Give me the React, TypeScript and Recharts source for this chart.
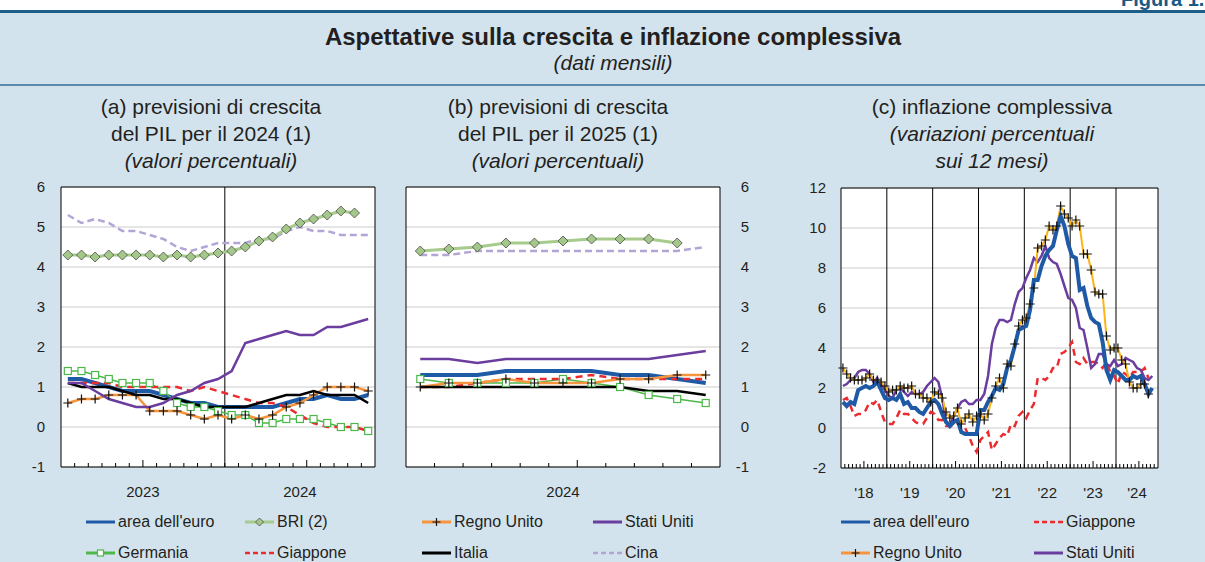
import React from 'react'
import { CartesianGrid, Line, LineChart, ReferenceArea, ReferenceLine, XAxis, YAxis } from 'recharts'

const FONT = '"Liberation Sans", Arial, Helvetica, sans-serif'
const INK = '#231f20'

// (a) forecasts of 2024 GDP growth, monthly surveys
const monthsA = [
  '2023-01', '2023-02', '2023-03', '2023-04', '2023-05', '2023-06', '2023-07', '2023-08', '2023-09', '2023-10', '2023-11', '2023-12',
  '2024-01', '2024-02', '2024-03', '2024-04', '2024-05', '2024-06', '2024-07', '2024-08', '2024-09', '2024-10', '2024-11',
]
const euroA = [1.2, 1.2, 1.1, 1.0, 0.9, 0.9, 0.9, 0.8, 0.7, 0.6, 0.6, 0.5, 0.5, 0.5, 0.5, 0.5, 0.6, 0.7, 0.7, 0.8, 0.7, 0.7, 0.8]
const briA = [4.3, 4.3, 4.25, 4.3, 4.3, 4.3, 4.3, 4.25, 4.3, 4.25, 4.3, 4.35, 4.4, 4.5, 4.65, 4.75, 4.95, 5.1, 5.2, 5.3, 5.4, 5.35, null]
const ukA = [0.6, 0.7, 0.7, 0.8, 0.8, 0.8, 0.4, 0.4, 0.4, 0.3, 0.2, 0.3, 0.2, 0.3, 0.2, 0.3, 0.5, 0.6, 0.8, 1.0, 1.0, 1.0, 0.9]
const usA = [1.1, 1.1, 0.9, 0.7, 0.6, 0.5, 0.5, 0.6, 0.8, 0.9, 1.1, 1.2, 1.4, 2.1, 2.2, 2.3, 2.4, 2.3, 2.3, 2.5, 2.5, 2.6, 2.7]
const deA = [1.4, 1.4, 1.3, 1.2, 1.1, 1.1, 1.1, 0.9, 0.6, 0.5, 0.5, 0.4, 0.3, 0.3, 0.1, 0.1, 0.2, 0.2, 0.2, 0.1, 0.0, 0.0, -0.1]
const jpA = [1.1, 1.1, 1.1, 1.1, 1.0, 1.0, 1.0, 1.0, 1.0, 0.9, 1.0, 0.9, 0.8, 0.7, 0.6, 0.6, 0.5, 0.3, 0.1, 0.0, 0.0, 0.0, -0.1]
const itA = [1.1, 1.0, 1.0, 1.0, 0.9, 0.8, 0.8, 0.7, 0.7, 0.6, 0.5, 0.5, 0.5, 0.5, 0.6, 0.7, 0.8, 0.8, 0.9, 0.8, 0.8, 0.8, 0.6]
const cnA = [5.3, 5.1, 5.2, 5.1, 4.9, 4.9, 4.8, 4.7, 4.5, 4.4, 4.5, 4.6, 4.6, 4.6, 4.7, 4.7, 4.9, 5.0, 4.9, 4.9, 4.8, 4.8, 4.8]

// (b) forecasts of 2025 GDP growth
const monthsB = ['2024-01', '2024-02', '2024-03', '2024-04', '2024-05', '2024-06', '2024-07', '2024-08', '2024-09', '2024-10', '2024-11']
const euroB = [1.3, 1.3, 1.3, 1.4, 1.4, 1.4, 1.4, 1.3, 1.3, 1.2, 1.1]
const briB = [4.4, 4.45, 4.5, 4.6, 4.6, 4.65, 4.7, 4.7, 4.7, 4.6, null]
const ukB = [1.0, 1.1, 1.1, 1.2, 1.1, 1.1, 1.1, 1.2, 1.2, 1.3, 1.3]
const usB = [1.7, 1.7, 1.6, 1.7, 1.7, 1.7, 1.7, 1.7, 1.7, 1.8, 1.9]
const deB = [1.2, 1.1, 1.1, 1.1, 1.1, 1.2, 1.1, 1.0, 0.8, 0.7, 0.6]
const jpB = [1.0, 1.0, 1.1, 1.2, 1.2, 1.2, 1.3, 1.2, 1.2, 1.2, 1.2]
const itB = [1.0, 1.0, 1.0, 1.0, 1.0, 1.0, 1.0, 1.0, 0.9, 0.9, 0.8]
const cnB = [4.3, 4.3, 4.4, 4.4, 4.4, 4.4, 4.4, 4.4, 4.4, 4.4, 4.5]

const yTicksAB = [-1, 0, 1, 2, 3, 4, 5, 6]

// (c) headline inflation, 12-month % change
const yearsC = ['2018', '2019', '2020', '2021', '2022', '2023', '2024']
const monthCountC = [12, 12, 12, 12, 12, 12, 11]
const euroC = [
  1.3, 1.1, 1.3, 1.2, 1.9, 2.0, 2.1, 2.0, 2.1, 2.3, 1.9, 1.5,
  1.4, 1.5, 1.4, 1.7, 1.2, 1.3, 1.0, 1.0, 0.8, 0.7, 1.0, 1.3,
  1.4, 1.2, 0.7, 0.3, 0.1, 0.3, 0.4, -0.2, -0.3, -0.3, -0.3, -0.3,
  0.9, 0.9, 1.3, 1.6, 2.0, 1.9, 2.2, 3.0, 3.4, 4.1, 4.9, 5.0,
  5.1, 5.9, 7.4, 7.4, 8.1, 8.6, 8.9, 9.1, 9.9, 10.6, 10.1, 9.2,
  8.6, 8.5, 6.9, 7.0, 6.1, 5.5, 5.3, 5.2, 4.3, 2.9, 2.4, 2.9,
  2.8, 2.6, 2.4, 2.4, 2.6, 2.5, 2.6, 2.2, 1.7, 2.0, null,
]
const jpC = [
  1.4, 1.5, 1.1, 0.6, 0.7, 0.7, 0.9, 1.3, 1.2, 1.4, 0.8, 0.3,
  0.2, 0.2, 0.5, 0.9, 0.7, 0.7, 0.5, 0.3, 0.2, 0.2, 0.5, 0.8,
  0.7, 0.4, 0.4, 0.1, 0.1, 0.1, 0.3, 0.2, 0.0, -0.4, -0.9, -1.2,
  -0.6, -0.4, -0.2, -1.1, -0.8, -0.5, -0.3, -0.4, 0.2, 0.1, 0.6, 0.8,
  0.5, 0.9, 1.2, 2.5, 2.5, 2.4, 2.6, 3.0, 3.0, 3.7, 3.8, 4.0,
  4.3, 3.3, 3.2, 3.5, 3.2, 3.3, 3.3, 3.2, 3.0, 3.3, 2.8, 2.6,
  2.2, 2.8, 2.7, 2.5, 2.8, 2.8, 2.8, 3.0, 2.5, null, null,
]
const ukC = [
  3.0, 2.7, 2.5, 2.4, 2.4, 2.4, 2.5, 2.7, 2.4, 2.4, 2.3, 2.1,
  1.8, 1.9, 1.9, 2.1, 2.0, 2.0, 2.1, 1.7, 1.7, 1.5, 1.5, 1.3,
  1.8, 1.7, 1.5, 0.8, 0.5, 0.6, 1.0, 0.2, 0.5, 0.7, 0.3, 0.6,
  0.7, 0.4, 0.7, 1.5, 2.1, 2.5, 2.0, 3.2, 3.1, 4.2, 5.1, 5.4,
  5.5, 6.2, 7.0, 9.0, 9.1, 9.4, 10.1, 9.9, 10.1, 11.1, 10.7, 10.5,
  10.1, 10.4, 10.1, 8.7, 8.7, 7.9, 6.8, 6.7, 6.7, 4.6, 3.9, 4.0,
  4.0, 3.4, 3.2, 2.3, 2.0, 2.0, 2.2, 2.2, 1.7, null, null,
]
const usC = [
  2.1, 2.2, 2.4, 2.5, 2.8, 2.9, 2.9, 2.7, 2.3, 2.5, 2.2, 1.9,
  1.6, 1.5, 1.9, 2.0, 1.8, 1.6, 1.8, 1.7, 1.7, 1.8, 2.1, 2.3,
  2.5, 2.3, 1.5, 0.3, 0.1, 0.6, 1.0, 1.3, 1.4, 1.2, 1.2, 1.4,
  1.4, 1.7, 2.6, 4.2, 5.0, 5.4, 5.4, 5.3, 5.4, 6.2, 6.8, 7.0,
  7.5, 7.9, 8.5, 8.3, 8.6, 9.1, 8.5, 8.3, 8.2, 7.7, 7.1, 6.5,
  6.4, 6.0, 5.0, 4.9, 4.0, 3.0, 3.2, 3.7, 3.7, 3.2, 3.1, 3.4,
  3.1, 3.2, 3.5, 3.4, 3.3, 3.0, 2.9, 2.5, 2.4, 2.6, null,
]
const yTicksC = [-2, 0, 2, 4, 6, 8, 10, 12]

const monthsC: string[] = []
yearsC.forEach((y, k) => {
  for (let m = 1; m <= monthCountC[k]; m++) monthsC.push(`${y}-${String(m).padStart(2, '0')}`)
})

const rowsA = monthsA.map((m, i) => ({ x: i + 0.5, euro: euroA[i], bri: briA[i], uk: ukA[i], us: usA[i], de: deA[i], jp: jpA[i], it: itA[i], cn: cnA[i] }))
const rowsB = monthsB.map((m, i) => ({ x: i + 0.5, euro: euroB[i], bri: briB[i], uk: ukB[i], us: usB[i], de: deB[i], jp: jpB[i], it: itB[i], cn: cnB[i] }))
const rowsC = monthsC.map((m, i) => ({ x: i + 0.5, euro: euroC[i], jp: jpC[i], uk: ukC[i], us: usC[i] }))

function yearSpans(months: string[], fmt: (y: string) => string) {
  const spans: { year: string; start: number; end: number }[] = []
  months.forEach((m, i) => {
    const y = m.slice(0, 4)
    const last = spans[spans.length - 1]
    if (last && last.year === y) last.end = i + 1
    else spans.push({ year: y, start: i, end: i + 1 })
  })
  return spans.map((s) => ({ text: fmt(s.year), pos: (s.start + s.end) / 2, start: s.start }))
}

const spansA = yearSpans(monthsA, (y) => y)
const spansB = yearSpans(monthsB, (y) => y)
const spansC = yearSpans(monthsC, (y) => "'" + y.slice(2))

function axisTicks(months: string[], spans: { pos: number }[]) {
  const t = months.map((m, i) => i).filter((i) => i > 0)
  spans.forEach((s) => { if (!t.includes(s.pos)) t.push(s.pos) })
  return t.sort((a, b) => a - b)
}

function MonthAxisTick(props: any) {
  const { x, y, payload, months, spans } = props
  const v = payload.value
  const isBoundary = Number.isInteger(v) && v > 0 && v < months.length
  const long = isBoundary && months[v].endsWith('-07')
  const lab = spans.find((s: any) => s.pos === v)
  return (
    <g>
      {isBoundary && <line x1={x} x2={x} y1={y} y2={y - (long ? 7 : 4)} stroke="#000" strokeWidth={1} />}
      {lab && (
        <text x={x} y={y + 25} dy="0.35em" textAnchor="middle" fontSize={15} fill={INK} fontFamily={FONT}>
          {lab.text}
        </text>
      )}
    </g>
  )
}

function RightTick(props: any) {
  const { x, y, payload, shift } = props
  return (
    <text x={x + shift} y={y} dy="0.355em" textAnchor="end" fontSize={15} fill={INK} fontFamily={FONT}>
      {payload.value}
    </text>
  )
}

const Diamond = (p: any) =>
  p.cx == null || p.cy == null ? (
    <g key={`dm${p.index}`} />
  ) : (
    <path key={`dm${p.index}`} d={`M${p.cx},${p.cy - 5}L${p.cx + 5},${p.cy}L${p.cx},${p.cy + 5}L${p.cx - 5},${p.cy}Z`} fill="#a4c88a" stroke="#4a4a4a" strokeWidth={0.8} />
  )

const Plus = (p: any) =>
  p.cx == null || p.cy == null ? (
    <g key={`pl${p.index}`} />
  ) : (
    <path key={`pl${p.index}`} d={`M${p.cx - 4.5},${p.cy}H${p.cx + 4.5}M${p.cx},${p.cy - 4.5}V${p.cy + 4.5}`} stroke="#111" strokeWidth={1.2} fill="none" />
  )

const Square = (p: any) =>
  p.cx == null || p.cy == null ? (
    <g key={`sq${p.index}`} />
  ) : (
    <rect key={`sq${p.index}`} x={p.cx - 3.5} y={p.cy - 3.5} width={7} height={7} fill="#fff" stroke="#4cb84a" strokeWidth={1.2} />
  )

const C = {
  euro: '#1f5aa6',
  bri: '#a6cb8c',
  uk: '#f7953e',
  ukC: '#fbb516',
  us: '#6a3d9e',
  de: '#4cb84a',
  jp: '#ec2b2e',
  it: '#000000',
  cn: '#b3a6d6',
}

function growthLines(x: string, y: string) {
  return [
    <Line key="cn" xAxisId={x} yAxisId={y} dataKey="cn" stroke={C.cn} strokeWidth={2.5} strokeDasharray="7 4" dot={false} isAnimationActive={false} />,
    <Line key="bri" xAxisId={x} yAxisId={y} dataKey="bri" stroke={C.bri} strokeWidth={3} dot={Diamond} isAnimationActive={false} />,
    <Line key="euro" xAxisId={x} yAxisId={y} dataKey="euro" stroke={C.euro} strokeWidth={4} dot={false} isAnimationActive={false} />,
    <Line key="de" xAxisId={x} yAxisId={y} dataKey="de" stroke={C.de} strokeWidth={1.5} dot={Square} isAnimationActive={false} />,
    <Line key="jp" xAxisId={x} yAxisId={y} dataKey="jp" stroke={C.jp} strokeWidth={2.5} strokeDasharray="7 5" dot={false} isAnimationActive={false} />,
    <Line key="uk" xAxisId={x} yAxisId={y} dataKey="uk" stroke={C.uk} strokeWidth={2.5} dot={Plus} isAnimationActive={false} />,
    <Line key="it" xAxisId={x} yAxisId={y} dataKey="it" stroke={C.it} strokeWidth={2.5} dot={false} isAnimationActive={false} />,
    <Line key="us" xAxisId={x} yAxisId={y} dataKey="us" stroke={C.us} strokeWidth={2.5} dot={false} isAnimationActive={false} />,
  ]
}

const tickStyle = { fontSize: 15, fill: INK, fontFamily: FONT }

function PanelA() {
  const n = monthsA.length
  return (
    <LineChart width={400} height={340} data={rowsA} margin={{ top: 17, right: 25, bottom: 0, left: 21 }}>
      <CartesianGrid xAxisId="b" yAxisId="l" vertical={false} stroke="#cccccc" fill="#ffffff" />
      <XAxis xAxisId="b" dataKey="x" type="number" domain={[0, n]} ticks={axisTicks(monthsA, spansA)} interval={0} height={43}
        axisLine={false} tickLine={false} tickSize={0} tickMargin={0} tick={<MonthAxisTick months={monthsA} spans={spansA} />} />
      <YAxis yAxisId="l" type="number" domain={[-1, 6]} ticks={yTicksAB} interval={0} width={40} axisLine={false} tickLine={false}
        tickSize={0} tickMargin={16} tick={tickStyle} />
      {spansA.slice(1).map((s) => (
        <ReferenceLine key={s.start} xAxisId="b" yAxisId="l" x={s.start} stroke="#000" strokeWidth={1} />
      ))}
      {growthLines('b', 'l')}
      <ReferenceArea xAxisId="b" yAxisId="l" x1={0} x2={n} y1={-1} y2={6} fill="none" fillOpacity={0} stroke="#000" strokeWidth={1} />
    </LineChart>
  )
}

function PanelB() {
  const n = monthsB.length
  return (
    <LineChart width={400} height={340} data={rowsB} margin={{ top: 17, right: 20, bottom: 0, left: 26 }}>
      <CartesianGrid xAxisId="b" yAxisId="r" vertical={false} stroke="#cccccc" fill="#ffffff" />
      <XAxis xAxisId="b" dataKey="x" type="number" domain={[0, n]} ticks={axisTicks(monthsB, spansB)} interval={0} height={43}
        axisLine={false} tickLine={false} tickSize={0} tickMargin={0} tick={<MonthAxisTick months={monthsB} spans={spansB} />} />
      <YAxis yAxisId="r" orientation="right" type="number" domain={[-1, 6]} ticks={yTicksAB} interval={0} width={40} axisLine={false}
        tickLine={false} tickSize={0} tickMargin={0} tick={<RightTick shift={29} />} />
      {growthLines('b', 'r')}
      <ReferenceArea xAxisId="b" yAxisId="r" x1={0} x2={n} y1={-1} y2={6} fill="none" fillOpacity={0} stroke="#000" strokeWidth={1} />
    </LineChart>
  )
}

function PanelC() {
  const n = monthsC.length
  return (
    <LineChart width={415} height={340} data={rowsC} margin={{ top: 18, right: 7, bottom: 0, left: 11 }}>
      <CartesianGrid xAxisId="b" yAxisId="l" vertical={false} stroke="#cccccc" fill="#ffffff" />
      <XAxis xAxisId="b" dataKey="x" type="number" domain={[0, n]} ticks={axisTicks(monthsC, spansC)} interval={0} height={42}
        axisLine={false} tickLine={false} tickSize={0} tickMargin={0} tick={<MonthAxisTick months={monthsC} spans={spansC} />} />
      <YAxis yAxisId="l" type="number" domain={[-2, 12]} ticks={yTicksC} interval={0} width={40} axisLine={false} tickLine={false}
        tickSize={0} tickMargin={15} tick={tickStyle} />
      <YAxis yAxisId="r" orientation="right" type="number" domain={[-2, 12]} ticks={yTicksC} interval={0} width={40} axisLine={false}
        tickLine={false} tickSize={0} tickMargin={0} tick={<RightTick shift={31} />} />
      {spansC.slice(1).map((s) => (
        <ReferenceLine key={s.start} xAxisId="b" yAxisId="l" x={s.start} stroke="#000" strokeWidth={1} />
      ))}
      <Line xAxisId="b" yAxisId="l" dataKey="jp" stroke={C.jp} strokeWidth={2.5} strokeDasharray="7 5" dot={false} isAnimationActive={false} />
      <Line xAxisId="b" yAxisId="l" dataKey="us" stroke={C.us} strokeWidth={2.5} dot={false} isAnimationActive={false} />
      <Line xAxisId="b" yAxisId="l" dataKey="uk" stroke={C.ukC} strokeWidth={2} dot={Plus} isAnimationActive={false} />
      <Line xAxisId="b" yAxisId="l" dataKey="euro" stroke={C.euro} strokeWidth={4} dot={false} isAnimationActive={false} />
      <ReferenceArea xAxisId="b" yAxisId="l" x1={0} x2={n} y1={-2} y2={12} fill="none" fillOpacity={0} stroke="#000" strokeWidth={1} />
    </LineChart>
  )
}

type LegendItem = { label: string; color: string; width: number; dash?: string; marker?: 'diamond' | 'plus' | 'square' }

const legendAB: LegendItem[][] = [
  [
    { label: "area dell'euro", color: C.euro, width: 3 },
    { label: 'BRI (2)', color: C.bri, width: 3, marker: 'diamond' },
    { label: 'Regno Unito', color: C.uk, width: 3, marker: 'plus' },
    { label: 'Stati Uniti', color: C.us, width: 3 },
  ],
  [
    { label: 'Germania', color: C.de, width: 3, marker: 'square' },
    { label: 'Giappone', color: C.jp, width: 2.5, dash: '5 3' },
    { label: 'Italia', color: C.it, width: 3 },
    { label: 'Cina', color: C.cn, width: 2.5, dash: '5 3' },
  ],
]
const legendC: LegendItem[][] = [
  [
    { label: "area dell'euro", color: C.euro, width: 3 },
    { label: 'Giappone', color: C.jp, width: 2.5, dash: '5 3' },
  ],
  [
    { label: 'Regno Unito', color: C.uk, width: 3, marker: 'plus' },
    { label: 'Stati Uniti', color: C.us, width: 3 },
  ],
]

function LegendEntry({ item, x, y }: { item: LegendItem; x: number; y: number }) {
  return (
    <div style={{ position: 'absolute', left: x, top: y - 11, height: 22, display: 'flex', alignItems: 'center', fontSize: 16, color: INK, whiteSpace: 'nowrap' }}>
      <svg width={29} height={14} style={{ display: 'block' }}>
        <line x1={0} x2={29} y1={7} y2={7} stroke={item.color} strokeWidth={item.width} strokeDasharray={item.dash} />
        {item.marker === 'diamond' && <path d="M14.5,3L18.5,7L14.5,11L10.5,7Z" fill="#a4c88a" stroke="#4a4a4a" strokeWidth={0.8} />}
        {item.marker === 'plus' && <path d="M10.5,7H18.5M14.5,3V11" stroke="#111" strokeWidth={1.2} />}
        {item.marker === 'square' && <rect x={11.5} y={4} width={6} height={6} fill="#fff" stroke={C.de} strokeWidth={1.2} />}
      </svg>
      <span style={{ marginLeft: 3 }}>{item.label}</span>
    </div>
  )
}

function PanelTitle({ cx, lines }: { cx: number; lines: { t: string; i?: boolean }[] }) {
  return (
    <div style={{ position: 'absolute', left: cx - 200, top: 93, width: 400, textAlign: 'center', fontSize: 21, lineHeight: '27px', color: INK }}>
      {lines.map((l, k) => (
        <div key={k} style={{ fontStyle: l.i ? 'italic' : 'normal' }}>{l.t}</div>
      ))}
    </div>
  )
}

export default function App() {
  const colsAB = [86, 245, 422, 593]
  const colsC = [841, 1034]
  const rows = [522, 553]
  return (
    <div style={{ position: 'fixed', left: 0, top: 0, width: 1205, height: 562, overflow: 'hidden', background: '#d3e3ed', fontFamily: FONT }}>
      <div style={{ position: 'absolute', left: 0, top: 0, width: 1205, height: 10, background: '#ffffff' }} />
      <div style={{ position: 'absolute', left: 1121, top: -12, fontSize: 20, fontWeight: 'bold', color: '#1b5a85', whiteSpace: 'nowrap' }}>Figura 1.</div>
      <div style={{ position: 'absolute', left: 0, top: 10, width: 1205, height: 3, background: '#1d5f86' }} />
      <div style={{ position: 'absolute', left: 0, top: 23, width: 1226, textAlign: 'center', fontSize: 24, lineHeight: '28px', fontWeight: 'bold', color: INK }}>
        Aspettative sulla crescita e inflazione complessiva
      </div>
      <div style={{ position: 'absolute', left: 0, top: 50, width: 1226, textAlign: 'center', fontSize: 21, lineHeight: '26px', fontStyle: 'italic', color: INK }}>
        (dati mensili)
      </div>
      <div style={{ position: 'absolute', left: 0, top: 84, width: 1205, height: 2, background: '#5d8aab' }} />

      <PanelTitle cx={211} lines={[{ t: '(a) previsioni di crescita' }, { t: 'del PIL per il 2024 (1)' }, { t: '(valori percentuali)', i: true }]} />
      <PanelTitle cx={558} lines={[{ t: '(b) previsioni di crescita' }, { t: 'del PIL per il 2025 (1)' }, { t: '(valori percentuali)', i: true }]} />
      <PanelTitle cx={992} lines={[{ t: '(c) inflazione complessiva' }, { t: '(variazioni percentuali', i: true }, { t: 'sui 12 mesi)', i: true }]} />

      <div style={{ position: 'absolute', left: 0, top: 170 }}><PanelA /></div>
      <div style={{ position: 'absolute', left: 380, top: 170 }}><PanelB /></div>
      <div style={{ position: 'absolute', left: 790, top: 170 }}><PanelC /></div>

      {legendAB.map((row, r) => row.map((it, c) => <LegendEntry key={`ab${r}${c}`} item={it} x={colsAB[c]} y={rows[r]} />))}
      {legendC.map((row, r) => row.map((it, c) => <LegendEntry key={`c${r}${c}`} item={it} x={colsC[c]} y={rows[r]} />))}
    </div>
  )
}
